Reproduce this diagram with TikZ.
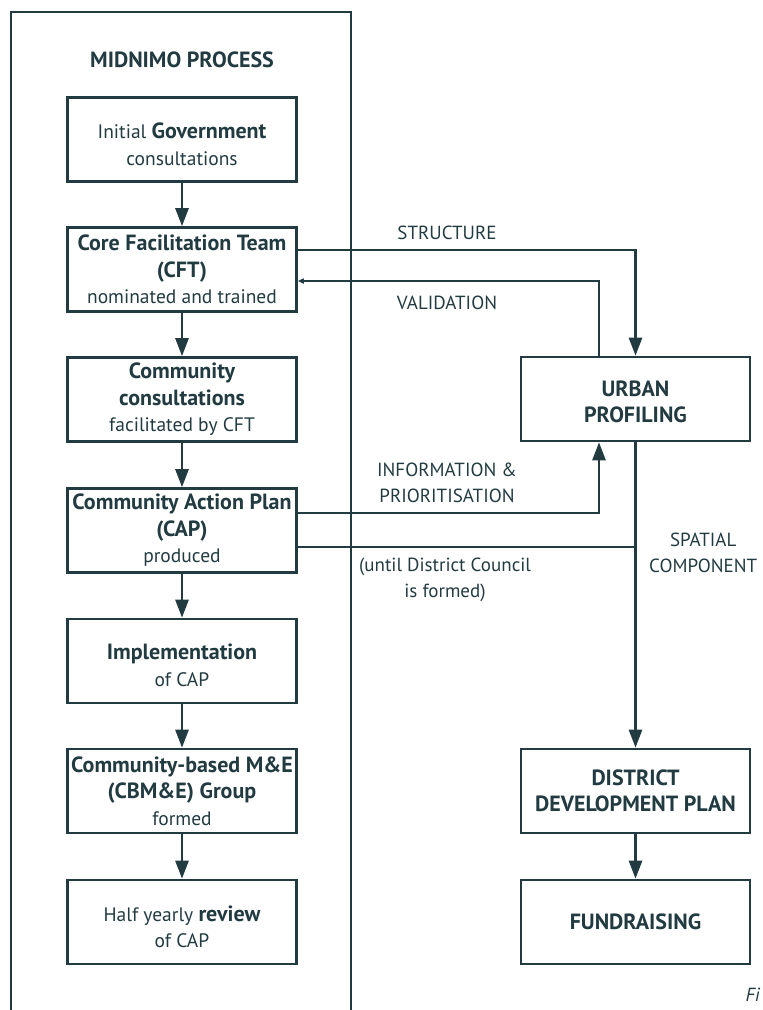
\documentclass[tikz,border=0pt]{standalone}
\usepackage{fontspec}
\setmainfont{PT Sans}
\usetikzlibrary{arrows.meta}
\definecolor{ink}{HTML}{223B41}
\newcommand{\B}[1]{{\fontsize{22}{26}\selectfont\bfseries #1}}
\begin{document}
\begin{tikzpicture}[x=1pt,y=-1pt,
  every node/.style={text=ink},
  lbox/.style={draw=ink,line width=2.6pt,minimum width=229pt,minimum height=84pt,inner sep=0pt,align=center,font=\fontsize{19.5}{26.5}\selectfont},
  lbl/.style={align=center,font=\fontsize{19}{26.5}\selectfont,inner sep=0pt},
  btxt/.style={align=center,font=\fontsize{19.5}{26.5}\selectfont,inner sep=0pt},
  conn/.style={draw=ink,line width=2.6pt},
  arr/.style={conn,-{Triangle[length=18pt,width=13pt]}},
  sarr/.style={conn,-{Triangle[length=6pt,width=5pt]}},
  panel/.style={draw=ink,line width=2.2pt}]
\useasboundingbox (0,0) rectangle (763,1010);
% panel
\draw[panel] (11,1012) -- (11,12) -- (351,12) -- (351,1012);
\node[lbl] (title) at (182,60) {\B{MIDNIMO PROCESS}};
% left column
\node[lbox] (gov) at (182,139.5) {};
\node[btxt] (govt) at (182,144.5) {Initial \B{Government}\\consultations};
\node[lbox] (cft) at (182,269.5) {\B{Core Facilitation Team}\\\B{(CFT)}\\nominated and trained};
\node[lbox] (com) at (182,399.5) {\B{Community}\\\B{consultations}\\facilitated by CFT};
\node[lbox] (cap) at (182,530.5) {\B{Community Action Plan}\\\B{(CAP)}\\produced};
\node[lbox] (imp) at (182,661) {};
\node[btxt] (impt) at (182,665.5) {\B{Implementation}\\of CAP};
\node[lbox] (cbm) at (182,791) {\B{Community-based M\&E}\\\B{(CBM\&E) Group}\\formed};
\node[lbox] (rev) at (182,922) {};
\node[btxt] (revt) at (182,927) {Half yearly \B{review}\\of CAP};
% right column
\node[lbox] (urb) at (635.5,399) {};
\node[btxt] (urbt) at (635.5,402) {\B{URBAN}\\\B{PROFILING}};
\node[lbox] (ddp) at (635.5,791) {\B{DISTRICT}\\\B{DEVELOPMENT PLAN}};
\node[lbox] (fund) at (635.5,922) {\B{FUNDRAISING}};
% left arrows
\draw[arr] (gov) -- (cft);
\draw[arr] (cft) -- (com);
\draw[arr] (com) -- (cap);
\draw[arr] (cap) -- (imp);
\draw[arr] (imp) -- (cbm);
\draw[arr] (cbm) -- (rev);
% right arrows
\draw[arr] (ddp) -- (fund);
\draw[arr] (urb.south) -- (ddp.north);
% cross links
\coordinate (sy) at (0,250);
\coordinate (vy) at (599,281);
\coordinate (iy) at (599,513);
\coordinate (py) at (0,547);
\draw[arr] (cft.east |- sy) -| (urb.north);
\draw[sarr] (urb.north -| vy) |- (cft.east |- vy);
\draw[arr] (cap.east |- iy) -| (urb.south -| iy);
\draw[conn] (cap.east |- py) -- (urb.south |- py);
% labels
\node[lbl] (lstr) at (447,233) {STRUCTURE};
\node[lbl] (lval) at (447,303) {VALIDATION};
\node[lbl] (linf) at (447,483) {INFORMATION \&\\PRIORITISATION};
\node[lbl] (lunt) at (445,580) {(until District Council\\is formed)};
\node[lbl,anchor=west] (lspa) at (649,553) {SPATIAL\\COMPONENT};
\node[lbl,anchor=east,font=\fontsize{19}{26}\selectfont\itshape] (fig) at (760,995) {Fi};
\end{tikzpicture}
\end{document}
